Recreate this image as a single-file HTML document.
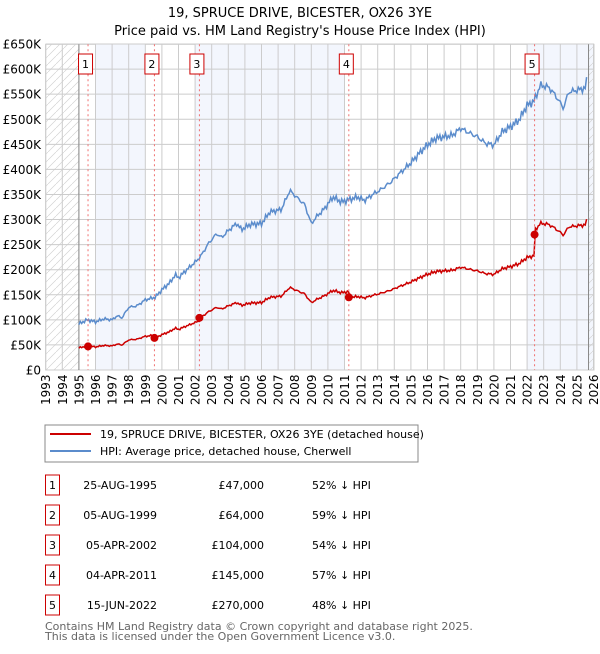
<!DOCTYPE html>
<html><head><meta charset="utf-8"><style>
body{margin:0;background:#fff;font-family:"DejaVu Sans","Liberation Sans",sans-serif;}
</style></head><body>
<svg id="s" width="600" height="650" xmlns="http://www.w3.org/2000/svg" font-family="DejaVu Sans, Liberation Sans, sans-serif">
<defs><pattern id="h" width="8" height="8" patternUnits="userSpaceOnUse"><path d="M0 8L8 0" stroke="#d4d4d4" stroke-width="0.7"/></pattern></defs>
<text x="300" y="17" font-size="13" text-anchor="middle">19, SPRUCE DRIVE, BICESTER, OX26 3YE</text>
<text x="300" y="35" font-size="13" text-anchor="middle">Price paid vs. HM Land Registry's House Price Index (HPI)</text>
<g id="g"></g>
<rect x="45" y="425" width="373" height="37" fill="#fff" stroke="#888"/>
<line x1="50" y1="434" x2="91" y2="434" stroke="#cc0000" stroke-width="2"/>
<line x1="50" y1="451" x2="91" y2="451" stroke="#5b8ccc" stroke-width="2"/>
<text x="100" y="438" font-size="11">19, SPRUCE DRIVE, BICESTER, OX26 3YE (detached house)</text>
<text x="100" y="455" font-size="11">HPI: Average price, detached house, Cherwell</text>
<g font-size="11" id="t"></g>
<text x="45" y="630" font-size="11" fill="#666">Contains HM Land Registry data © Crown copyright and database right 2025.</text>
<text x="45" y="640" font-size="11" fill="#666">This data is licensed under the Open Government Licence v3.0.</text>
</svg>
<script>
var g=document.getElementById('g');
function X(y){return 45.7+(y-1993)*16.6}function Y(k){return 370-k*0.5015}
var h='';
h+='<rect x="45.7" y="44.3" width="548.3" height="325.7" fill="#fff" stroke="#ccc"/>';
var sh='#f3f6fd';
h+='<rect x="'+X(1996)+'" y="44.3" width="'+(X(1999)-X(1996))+'" height="325.7" fill="'+sh+'"/>';
h+='<rect x="'+X(2002)+'" y="44.3" width="'+(X(2011)-X(2002))+'" height="325.7" fill="'+sh+'"/>';
h+='<rect x="'+X(2022)+'" y="44.3" width="'+(X(2026)-X(2022))+'" height="325.7" fill="'+sh+'"/>';
h+='<rect x="45.7" y="44.3" width="'+(X(1995)-45.7)+'" height="325.7" fill="url(#h)"/>';
h+='<rect x="'+X(2025.7)+'" y="44.3" width="'+(X(2026)-X(2025.7))+'" height="325.7" fill="url(#h)"/>';
for(var yr=1993;yr<=2026;yr++){h+='<line x1="'+X(yr)+'" x2="'+X(yr)+'" y1="44.3" y2="370" stroke="#ccc"/>';
h+='<text transform="translate('+(X(yr)+4.5)+',405) rotate(-90)" font-size="12">'+yr+'</text>';}
for(var k=0;k<=650;k+=50){h+='<line x1="45.7" x2="594" y1="'+Y(k)+'" y2="'+Y(k)+'" stroke="#ccc"/>';
h+='<text x="41" y="'+(Y(k)+4.5)+'" font-size="12" text-anchor="end">'+(k?'£'+k+'K':'£0')+'</text>';}
h+='<line x1="'+X(1995)+'" x2="'+X(1995)+'" y1="44.3" y2="370" stroke="#888"/>';
h+='<line x1="'+X(2025.7)+'" x2="'+X(2025.7)+'" y1="44.3" y2="370" stroke="#888"/>';
var kp=[[1995,92],[1995.5,100],[1996,96],[1996.5,102],[1997,100],[1997.3,108],[1997.6,104],[1998,125],[1998.5,128],[1999,140],[1999.6,145],[2000,160],[2000.5,175],[2000.8,190],[2001,184],[2001.5,200],[2002,215],[2002.3,225],[2002.8,252],[2003.3,272],[2003.6,264],[2004,278],[2004.5,292],[2004.8,280],[2005.3,290],[2006,292],[2006.5,315],[2007.2,320],[2007.7,358],[2008.2,342],[2008.6,330],[2009,292],[2009.3,305],[2009.8,322],[2010.3,345],[2010.8,335],[2011.3,340],[2011.8,345],[2012.2,338],[2012.7,350],[2013.2,360],[2013.8,375],[2014.35,393],[2015,413],[2015.5,432],[2016,449],[2016.5,462],[2017,465],[2017.5,468],[2018,482],[2018.5,473],[2019,465],[2019.5,452],[2020,449],[2020.5,475],[2021,485],[2021.5,498],[2022,528],[2022.4,535],[2022.8,568],[2023.3,564],[2023.7,548],[2024.2,522],[2024.5,554],[2025,558],[2025.5,562],[2025.6,580]];
function hpi(t){for(var i=0;i<kp.length-1;i++){if(t<=kp[i+1][0]){var a=kp[i],b=kp[i+1],f=(t-a[0])/(b[0]-a[0]);return a[1]+f*(b[1]-a[1]);}}return kp[kp.length-1][1];}
function rat(t){return t<1999.6?0.48:t<2002.26?0.44:t<2011.26?0.46:t<2022.45?0.425:0.515}
var pb='',pr='';
for(var t=1995;t<=2025.6;t+=1/12){var n=Math.sin(t*37.1)*3+Math.sin(t*91.7)*2;var v=hpi(t)+n*(0.5+hpi(t)/400);
pb+=X(t).toFixed(1)+','+Y(v).toFixed(1)+' ';pr+=X(t).toFixed(1)+','+Y(v*rat(t)).toFixed(1)+' ';}
h+='<polyline points="'+pb+'" fill="none" stroke="#5b8ccc" stroke-width="1.5"/>';
h+='<polyline points="'+pr+'" fill="none" stroke="#cc0000" stroke-width="1.5"/>';
var s=[[1995.55,47],[1999.55,64],[2002.26,104],[2011.26,145],[2022.45,270]];
s.forEach(function(p,i){var x=X(p[0]);
h+='<line x1="'+x+'" x2="'+x+'" y1="44.3" y2="370" stroke="#f07070" stroke-dasharray="2,3"/>';
h+='<rect x="'+(x-9.5)+'" y="54" width="14" height="20" fill="#fff" stroke="#cc0000"/>';
h+='<text x="'+(x-2.5)+'" y="68" font-size="11" text-anchor="middle">'+(i+1)+'</text>';
h+='<circle cx="'+x+'" cy="'+Y(p[1])+'" r="4" fill="#cc0000"/>';});
g.innerHTML=h;
var rows=[['25-AUG-1995','£47,000','52%'],['05-AUG-1999','£64,000','59%'],['05-APR-2002','£104,000','54%'],['04-APR-2011','£145,000','57%'],['15-JUN-2022','£270,000','48%']];
var th='';rows.forEach(function(r,i){var y=475+i*30;
th+='<rect x="45.5" y="'+y+'" width="14" height="20" fill="#fff" stroke="#cc0000"/>';
th+='<text x="52.5" y="'+(y+14)+'" text-anchor="middle">'+(i+1)+'</text>';
th+='<text x="157" y="'+(y+14)+'" text-anchor="end">'+r[0]+'</text>';
th+='<text x="264" y="'+(y+14)+'" text-anchor="end">'+r[1]+'</text>';
th+='<text x="312" y="'+(y+14)+'">'+r[2]+' ↓ HPI</text>';});
document.getElementById('t').innerHTML=th;
</script>
</body></html>
